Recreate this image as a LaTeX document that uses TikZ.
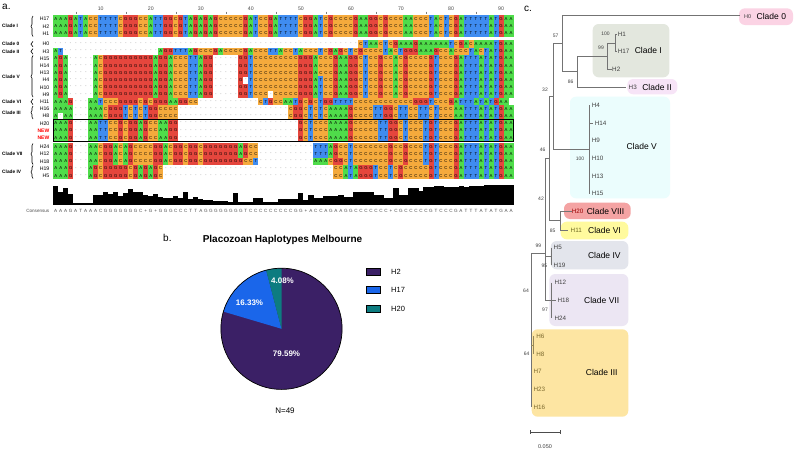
\documentclass[tikz,border=0pt]{standalone}
\usepackage{fontspec}
\setmainfont{Liberation Sans}
\usetikzlibrary{decorations.pathreplacing}
\definecolor{cA}{HTML}{4FDC4A}
\definecolor{cC}{HTML}{F5AA3C}
\definecolor{cG}{HTML}{E5463D}
\definecolor{cT}{HTML}{3F8CF0}
\definecolor{pHtwo}{HTML}{3B2066}
\definecolor{pHseventeen}{HTML}{1A66EA}
\definecolor{pHtwenty}{HTML}{0D7C80}
\definecolor{bZero}{HTML}{FBD3E4}
\definecolor{bOne}{HTML}{E3E7DE}
\definecolor{bTwo}{HTML}{F7E4F7}
\definecolor{bFive}{HTML}{EBFDFD}
\definecolor{bEight}{HTML}{F4A3A3}
\definecolor{bSix}{HTML}{FFFA9E}
\definecolor{bFour}{HTML}{E3E5EC}
\definecolor{bSeven}{HTML}{ECE6F3}
\definecolor{bThree}{HTML}{FDE5A2}
\definecolor{olivetxt}{HTML}{7D6A2E}
\newcount\colno
\newif\ifcons
\def\dd{----------}
\def\drawcell#1{%
 \ifcons
   \node[constxt] at ({50.696+5.004*\colno},\rowy) {#1};
 \else
   \let\cellcol\relax
   \if A#1\def\cellcol{cA}\fi
   \if C#1\def\cellcol{cC}\fi
   \if G#1\def\cellcol{cG}\fi
   \if T#1\def\cellcol{cT}\fi
   \ifx\cellcol\relax
     \node[dashtxt] at ({50.696+5.004*\colno},\rowy) {-};
   \else
     \fill[\cellcol] ({48.196+5.004*\colno},{\rowy-3.65}) rectangle ++(5.1,7.3);
     \node[celltxt] at ({50.696+5.004*\colno},\rowy) {#1};
   \fi
 \fi}
\def\rowloop#1{\ifx\relax#1\else\advance\colno by 1 \drawcell#1\expandafter\rowloop\fi}
\def\alrow#1#2{\colno=0 \def\rowy{#1}\edef\tmpseq{#2}\expandafter\rowloop\tmpseq\relax}
\begin{document}
\begin{tikzpicture}[x=1pt,y=-1pt,
 celltxt/.style={inner sep=0pt, font=\fontsize{4.3}{4.3}\selectfont, text=black},
 dashtxt/.style={inner sep=0pt, font=\fontsize{4.3}{4.3}\selectfont, text=black!45},
 constxt/.style={inner sep=0pt, font=\fontsize{4.6}{4.6}\selectfont, text=black!70},
 rowlab/.style={anchor=east, inner sep=0pt, font=\fontsize{5.2}{5.2}\selectfont},
 cladelab/.style={anchor=west, inner sep=0pt, font=\bfseries\fontsize{4.8}{4.8}\selectfont},
 abrace/.style={decorate, decoration={brace, amplitude=2pt}, line width=0.6pt},
 treeline/.style={draw=black!55, line width=0.7pt},
 boot/.style={inner sep=0pt, font=\fontsize{5}{5}\selectfont, text=black!75},
 hlab/.style={anchor=west, inner sep=0pt, font=\fontsize{6.3}{6.3}\selectfont, text=black!75},
 cladetree/.style={inner sep=0pt, font=\fontsize{8.5}{8.5}\selectfont},
 cbox/.style={rounded corners=6pt},
 panel/.style={inner sep=0pt, font=\fontsize{10}{10}\selectfont},
 pct/.style={inner sep=0pt, text=white, font=\bfseries\fontsize{8}{8}\selectfont},
 leglab/.style={anchor=west, inner sep=0pt, font=\fontsize{7.5}{7.5}\selectfont},
 legbox/.style={draw=black, line width=0.6pt}]
\useasboundingbox (0,0) rectangle (796,450);
\fill[white] (0,0) rectangle (796,450);
% ---------------- panel a ----------------
\node[panel, anchor=west] (pa) at (2,7) {a.};
\foreach \n in {10,20,...,90} \node[inner sep=0pt, font=\fontsize{5.2}{5.2}\selectfont, text=black!70] (num\n) at ({50.696+5.004*\n},9) {\n};
\foreach \n in {5,15,...,85} \draw[black!50, line width=0.4pt] ({50.696+5.004*\n},11.5) -- ++(0,2.5);
\alrow{19}{AAAGATACCTTTTCGGGCCATTGGCGTAGAGAGCCCCCGATCCGATTTTCGGATCGCCCCGAAGGCGCCCAACCCTACTCGATTTTTATGAA}
\alrow{26.2}{AAAGATACCTTTTCGGGCCATTGGCGTAGAGAGCCCCCGATCCGATTTTCGGATCGCCCCGAAGGCGCCCAACCCTACTCGATTTTTATGAA}
\alrow{33.4}{AAAGATACCTTTTCGGGCCATTGGCGTAGAGAGCCCCCGATCCGATTTTCGGATCGCCCCGAAGGCGCCCAACCCTACTCGATTTTTATGAA}
\alrow{44.1}{\dd\dd\dd\dd\dd\dd-CTAACTCGAAAGAAAAAATCGACAAAATGAA}
\alrow{51.3}{AT\dd---------AGGTTTAGCCCGACCCCGACCCTTACCTACCCTCGAGCTCGCCCCTACTGGGAAAGCCACCCTACTATGAA}
\alrow{58.5}{AGA-----ACGGGGGGGGGGAGGACCCTTAGG-----GGTCCCCCCCCCGGGACCCGAAGGCTCCGCCACGCCCCGTCCCGATTTATATGAA}
\alrow{65.7}{AGA-----ACGGGGGGGGGGAGGACCCTTAGG-----GGTCCCCCCCCCGGGACCCGAAGGCTCCGCCACGCCCCGTCCCGATTTATATGAA}
\alrow{72.9}{AGA-----ACGGGGGGGGGGAGGACCCTTAGG-----GGTCCCCCCCCCGGGACCCGAAGGCTCCGCCACGCCCCGTCCCGATTTATATGAA}
\alrow{80.1}{AGA-----ACGGGGGGGGGGAGGACCCTTAGG-----G-TCCCCCCCCCGGGATCCGAAGGCTCCGCCACGCCCCGTCCCGATTTATATGAA}
\alrow{87.3}{AGA-----ACGGGGGGGGGGAGGACCCTTAGG-----GGTCCCCCCCCCGGGATCCGAAGGCTCCGCCACGCCCCGTCCCGATTTATATGAA}
\alrow{94.5}{AGA-----ACGGGGGGGGGGAGGACCCTTAGG-----GGTCCC-CCCCCGGGATCCGAAGGCTCCGCCACGCCCCGTCCCGATTTATATGAA}
\alrow{101.7}{AAAG---AATCCCGGGGCGCGGGAAGGCC\dd--CTGCCAATGCGCTGGTTTTCCCCCCCCCCCCGGGTCCCGATTTATATGAA}
\alrow{108.9}{AAAA---AAACGGGTCTCTGGCCCC\dd\dd--CGGCTCTCAAAAGCCCCTTGGCTTCCTTCTCCCAATTTATATGAA}
\alrow{116.1}{A-AA---AAACGGGTCTCTGGCCCC\dd\dd--CGGCTCTCAAAAGCCCCTTGGCTTCCTTCTCCCAATTTATATGAA}
\alrow{123.3}{AAAG---AATTCCGCGGAGCCAAGG\dd\dd----GCTCCCAAAAGCCCCCTTGGCTCCCTGTCCCGATTTATATGAA}
\alrow{130.5}{AAAG---AATTCCGCGGAGCCAAGG\dd\dd----GCTCCCAAAAGCCCCCTTGGCTCCCTGTCCCGATTTATATGAA}
\alrow{137.7}{AAAG---AATTCCGCGGAGCCAAGG\dd\dd----GCTCCCAAAAGCCCCCTTGGCTCCCTGTCCCGATTTATATGAA}
\alrow{146.9}{AAAG---AACGGACAGCCCCGGACGGCGGCGGGGGGGAGCC\dd-TTTAGCCTCCCCCCCGCCGCCCTGTCCCGATTTATATGAA}
\alrow{154.1}{AAAG---AACGGACAGCCCCGGACGGCGGCGGGGGGGAGCC\dd-TTTAGCCTCCCCCCCGCCGCCCTGTCCCGATTTATATGAA}
\alrow{161.3}{AAAG---AACGGACAGCCCCGGACGGCGGCGGGGGGGGCCT\dd-AAACGGCTCCCCCCCGCCGCCCTGTCCCGATTTATATGAA}
\alrow{168.5}{AAAG---AGCGGGGGCGAGAGC\dd\dd\dd----CCATAGGGTCCTCGCCCCCGTCCCGATTTATATGAA}
\alrow{175.7}{AAAG---AGCGGGGGCGAGAGC\dd\dd\dd----CCATAGGGTCCTCGCCCCCGTCCCGATTTATATGAA}
\draw[line width=0.6pt] (53.2,119.7) rectangle (513.6,141.3);
% histogram
\foreach \h [count=\i] in {19,13,17,11,2,2,2,2,10,10,13,11,13,9,12,16,13,13,10,9,11,8,7,7,9,7,13,6,8,6,5,5,4,4,4,3,12,3,3,3,7,7,3,3,3,6,6,6,6,12,5,10,7,7,9,9,9,10,8,8,13,13,13,13,10,10,7,7,17,10,10,17,17,14,18,18,19,19,18,18,18,19,18,19,19,19,20,20,20,20,20,20}
  \fill[black] ({48.196+5.004*\i},205) rectangle ++(5.1,-\h);
\construe
\alrow{211}{AAAGATAAACGGGGGGGC+G+GGGCCCTTAGGGGGGGGTCCCCCCCCCGG+ACCAGAAGGCCCCCCC+CGCCCCCGTCCCGATTTATATGAA}
\consfalse
\node[rowlab, font=\fontsize{4.6}{4.6}\selectfont, text=black!70] (cons) at (49.5,211) {Consensus};
% row labels
\foreach \y/\t [count=\k] in {19/H17,26.2/H2,33.4/H1,44.1/H0,51.3/H3,58.5/H15,65.7/H14,72.9/H13,80.1/H4,87.3/H10,94.5/H9,101.7/H11,108.9/H16,116.1/H8,123.3/H20,146.9/H24,154.1/H12,161.3/H18,168.5/H19,175.7/H5}
  \node[rowlab] (rl\k) at (49.5,\y) {\t};
\node[rowlab, text=red, font=\bfseries\fontsize{5}{5}\selectfont] (new1) at (49.5,130.5) {NEW};
\node[rowlab, text=red, font=\bfseries\fontsize{5}{5}\selectfont] (new2) at (49.5,137.7) {NEW};
% clade braces
\foreach \a/\b/\m/\t [count=\k] in {36.5/16/26.2/Clade I,46.8/41.4/44.1/Clade 0,54.2/48.6/51.3/Clade II,97/55.6/76.3/Clade V,104.6/98.9/101.7/Clade VI,119/106/112.5/Clade III,164.4/143.5/154/Clade VII,178.5/165.6/172/Clade IV}
{
  \draw[abrace] (33,\a) -- (33,\b);
  \node[cladelab] (cl\k) at (2,\m) {\t};
}
% ---------------- panel b ----------------
\node[panel, anchor=west] (pb) at (163,238) {b.};
\node[inner sep=0pt, font=\bfseries\fontsize{10}{10}\selectfont] (title) at (282.5,239.5) {Placozoan Haplotypes Melbourne};
\begin{scope}[shift={(281.5,328.8)}, y=1pt]
 \fill[pHtwo] (0,0) circle (60.6);
 \fill[pHseventeen] (0,0) -- (104.7:60.6) arc[start angle=104.7,end angle=163.5,radius=60.6] -- cycle;
 \fill[pHtwenty] (0,0) -- (90:60.6) arc[start angle=90,end angle=104.7,radius=60.6] -- cycle;
 \draw[line width=0.7pt] (0,0) circle (60.6);
\end{scope}
\node[pct] (p1) at (282.5,281) {4.08\%};
\node[pct] (p2) at (249.5,302.5) {16.33\%};
\node[pct] (p3) at (286.5,353.5) {79.59\%};
\node[inner sep=0pt, font=\fontsize{8}{8}\selectfont] (nn) at (285,411) {N=49};
\draw[legbox, fill=pHtwo] (366.7,268.3) rectangle (380,275);
\draw[legbox, fill=pHseventeen] (366.7,286.3) rectangle (380,293);
\draw[legbox, fill=pHtwenty] (366.7,305.3) rectangle (380,312);
\node[leglab] (l1) at (391,271.6) {H2};
\node[leglab] (l2) at (391,289.6) {H17};
\node[leglab] (l3) at (391,308.6) {H20};
% ---------------- panel c ----------------
\node[panel, anchor=west] (pc) at (524,9) {c.};
\fill[bZero, cbox] (739,8.3) rectangle (793,25);
\fill[bOne, cbox] (592.7,24) rectangle (669.3,77.3);
\fill[bTwo, cbox] (627.3,79) rectangle (677.3,94.3);
\fill[bFive, cbox] (570,96.7) rectangle (670,198.3);
\fill[bEight, cbox] (564,202.7) rectangle (630.7,219);
\fill[bSix, cbox] (560.7,221.7) rectangle (628.3,239.3);
\fill[bFour, cbox] (550.7,241) rectangle (628.3,269.3);
\fill[bSeven, cbox] (549.3,274) rectangle (628.3,326);
\fill[bThree, cbox] (531.7,329.3) rectangle (628.3,416.7);
% tree lines
\draw[treeline] (740,15.7) -| (562.3,71.7) -- (577.7,71.7);
\draw[treeline] (607.3,56.7) -| (577.7,87.3) -- (626,87.3);
\draw[treeline] (612,69.3) -| (607.3,43.3) -- (615.7,43.3);
\draw[treeline] (617,34) -| (615.7,51.7) -- (617,51.7);
\draw[treeline] (562.3,43.7) -| (553,149.3) -- (589,149.3);
\draw[treeline] (589,105) -- (589,193.7);
\draw[treeline] (589,123) -- (592.5,123);
\draw[treeline] (553,96.5) -| (549.3,220.7) -- (560,220.7);
\draw[treeline] (571.7,211) -| (560,230) -- (568.3,230);
\draw[treeline] (549.3,158.6) -| (545.7,300.7) -- (551.7,300.7);
\draw[treeline] (545.7,256.3) -- (551,256.3);
\draw[treeline] (551,247.7) -- (551,265);
\draw[treeline] (551.7,282.7) -- (551.7,318.3);
\draw[treeline] (551.7,300.7) -- (555.5,300.7);
\draw[treeline] (545.7,253) -| (531,407.3);
\draw[treeline, draw=olivetxt!80] (531,345) -| (533,336);
\draw[treeline, draw=olivetxt!80] (533,336) -- (533,354);
% tree labels
\node[hlab, font=\fontsize{5.5}{5.5}\selectfont] (t0) at (744,16.5) {H0};
\node[cladetree, anchor=west] (c0) at (756.5,16.5) {Clade 0};
\node[hlab] (t1) at (617.7,34) {H1};
\node[hlab] (t17) at (617.7,51.7) {H17};
\node[hlab] (t2) at (612,69.3) {H2};
\node[cladetree] (c1) at (648.3,50.7) {Clade I};
\node[hlab] (t3) at (628.5,87.8) {H3};
\node[cladetree] (c2) at (657,87.3) {Clade II};
\node[hlab] (t4) at (591.7,105) {H4};
\node[hlab] (t14) at (594.7,123) {H14};
\node[hlab] (t9) at (591.7,140.3) {H9};
\node[hlab] (t10) at (591.7,158.3) {H10};
\node[hlab] (t13) at (591.7,176) {H13};
\node[hlab] (t15) at (591.7,193.7) {H15};
\node[cladetree] (c5) at (641.7,146.7) {Clade V};
\node[hlab, text=red!60!black] (t20) at (571.7,211.5) {H20};
\node[cladetree] (c8) at (605.5,211) {Clade VIII};
\node[hlab, text=olive!70!black] (t11) at (570.5,230.3) {H11};
\node[cladetree] (c6) at (604.5,230.3) {Clade VI};
\node[hlab] (t5) at (553.5,247.7) {H5};
\node[hlab] (t19) at (553.5,265) {H19};
\node[cladetree] (c4) at (604.3,255.3) {Clade IV};
\node[hlab] (t12) at (554.3,282.7) {H12};
\node[hlab] (t18) at (557.3,300.7) {H18};
\node[hlab] (t24) at (554.3,318.3) {H24};
\node[cladetree] (c7) at (601.7,300.3) {Clade VII};
\node[hlab, text=olivetxt] (t6) at (536.2,336) {H6};
\node[hlab, text=olivetxt] (t8) at (536.2,354) {H8};
\node[hlab, text=olivetxt] (t7) at (533.3,371.7) {H7};
\node[hlab, text=olivetxt] (t23) at (533.3,389.7) {H23};
\node[hlab, text=olivetxt] (t16) at (533.3,407.3) {H16};
\node[cladetree] (c3) at (601.7,372) {Clade III};
% bootstrap values
\foreach \x/\y/\v [count=\k] in {555.7/35.7/57,605.5/33.5/100,601/47.7/99,570.7/81.7/86,545/89.3/32,542.7/150/46,580/159/100,541/199/42,552.7/230.7/85,538.3/245.7/99,544.3/265.7/95,526/291/64,545/310/97,526.7/354/64}
  \node[boot] (bs\k) at (\x,\y) {\v};
% scale bar
\draw[black!70, line width=0.6pt] (530,432.3) -- (560.7,432.3);
\draw[black!70, line width=0.6pt] (530,430.3) -- (530,434.3) (560.7,430.3) -- (560.7,434.3);
\node[boot, font=\fontsize{5.5}{5.5}\selectfont] (sb) at (545,446.5) {0.050};
\end{tikzpicture}
\end{document}
